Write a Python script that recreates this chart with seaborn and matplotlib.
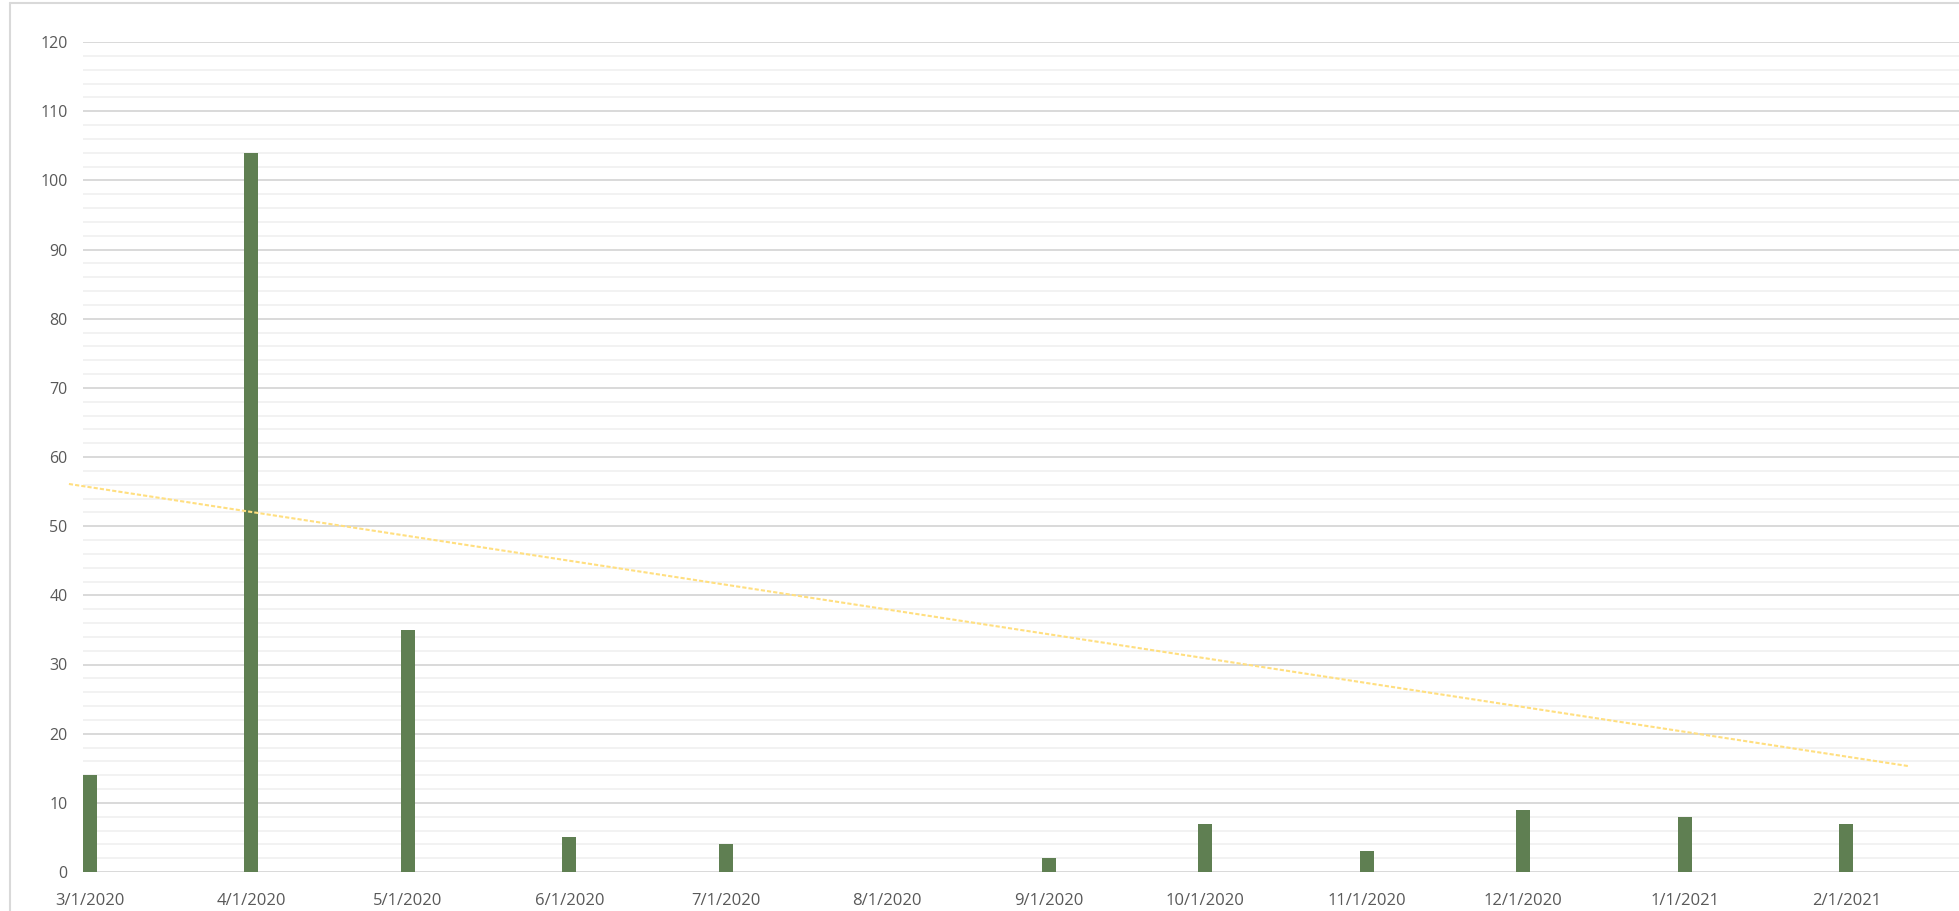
import pandas as pd
import seaborn as sns
import matplotlib.pyplot as plt
import matplotlib.dates as mdates
from matplotlib.lines import Line2D

# monthly counts (8/1/2020 has no bar)
month_labels = ["3/1/2020", "4/1/2020", "5/1/2020", "6/1/2020", "7/1/2020", "8/1/2020",
                "9/1/2020", "10/1/2020", "11/1/2020", "12/1/2020", "1/1/2021", "2/1/2021"]
counts = [14, 104, 35, 5, 4, 0, 2, 7, 3, 9, 8, 7]

# linear trendline end points
trend_dates = ["2/26/2020", "2/13/2021"]
trend_values = [56.1, 15.3]

y_ticks = [0, 10, 20, 30, 40, 50, 60, 70, 80, 90, 100, 110, 120]

sns.set_theme(style="white")
plt.rcParams["font.family"] = ["Open Sans", "DejaVu Sans"]

dates = pd.to_datetime(month_labels, format="%m/%d/%Y")
xnum = mdates.date2num(dates)
df = pd.DataFrame({"x": xnum, "count": counts})

fig = plt.figure(figsize=(19.59, 9.11), dpi=100)
ax = fig.add_axes([83 / 1959, 39 / 911, 1 - 83 / 1959, 830 / 911])

# light minor / major gridlines like Excel
for v in range(0, 121, 2):
    major = v % 10 == 0
    ax.axhline(v, color="#d9d9d9" if major else "#f2f2f2", lw=1.4, zorder=0)

sns.barplot(data=df, x="x", y="count", native_scale=True, width=0.09,
            color="#5f7f52", saturation=1, edgecolor="none", ax=ax, zorder=2)

tx = mdates.date2num(pd.to_datetime(trend_dates, format="%m/%d/%Y"))
ax.plot(tx, trend_values, color="#ffdf80", lw=1.5, linestyle=(0, (2, 1)),
        clip_on=False, zorder=3)

ax.set_xlim(xnum[0] - 1.3, xnum[0] + 358.6)
ax.set_ylim(0, 120)
ax.set_yticks(y_ticks)
ax.set_yticklabels([str(t) for t in y_ticks])
ax.set_xticks(xnum)
ax.set_xticklabels(month_labels)
ax.tick_params(axis="both", length=0, labelsize=11.5, labelcolor="#595959")
ax.tick_params(axis="x", labelsize=12, pad=15)
ax.tick_params(axis="y", pad=11)
ax.set_xlabel("")
ax.set_ylabel("")
for s in ax.spines.values():
    s.set_visible(False)

# chart area border (left and top visible, rest cropped)
fig.add_artist(Line2D([10 / 1959, 10 / 1959], [0, 908 / 911], color="#d9d9d9", lw=1.5,
                      transform=fig.transFigure))
fig.add_artist(Line2D([10 / 1959, 1], [908 / 911, 908 / 911], color="#d9d9d9", lw=1.5,
                      transform=fig.transFigure))

fig.savefig("out.png", dpi=100)
